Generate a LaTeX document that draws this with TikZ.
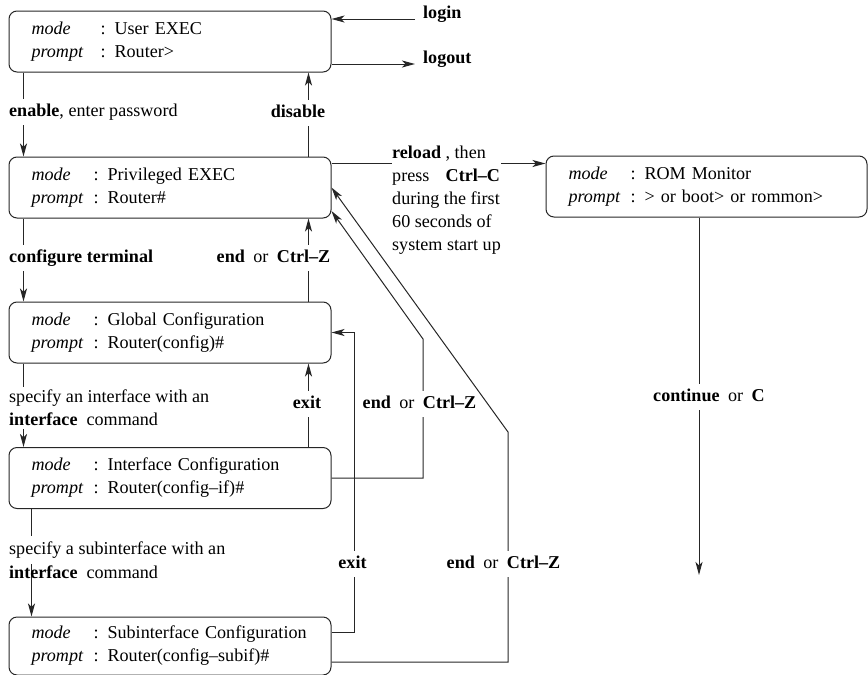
\documentclass[tikz,border=0pt]{standalone}
\usepackage{fontspec}
\setmainfont{Liberation Serif}
\usetikzlibrary{arrows.meta,calc}

% two-line mode/prompt description inside a state box
\newcommand\modeline[3]{\mbox{\makebox[#1][l]{\textit{mode}}: #2}\\\mbox{\makebox[#1][l]{\textit{prompt}}: #3}}
% spacing around "or" between two keys
\newcommand\eor{\hspace{0.47em}or\hspace{0.47em}}

\begin{document}
\begin{tikzpicture}[x=1pt,y=-1pt,
  every node/.style={font=\fontsize{18.1pt}{23pt}\selectfont},
  conn/.style={draw=black!85, line width=1pt},
  arr/.style={conn, -{Stealth[length=13pt,width=7pt,inset=3.5pt]}},
  modebox/.style={conn, rounded corners=8pt, inner xsep=22.5pt, inner ysep=0pt,
    align=left, minimum height=61pt, text width=#1},
  lbl/.style={fill=white, inner xsep=1pt, inner ysep=5pt, text height=12.5pt, text depth=4pt},
  mlbl/.style={fill=white, inner xsep=1pt, inner ysep=3pt, align=left},
]
\useasboundingbox (0,0) rectangle (868,675);

% ---- state boxes ----
\node[modebox=277pt] (b1) at (170,41.5) {\modeline{69pt}{User EXEC}{Router>}};
\node[modebox=277pt] (b2) at (170,187.5) {\modeline{62pt}{Privileged EXEC}{Router\#}};
\node[modebox=277pt] (b3) at (170,332.5) {\modeline{62pt}{Global Configuration}{Router(config)\#}};
\node[modebox=277pt] (b4) at (170,478) {\modeline{62pt}{Interface Configuration}{Router(config–if)\#}};
\node[modebox=277pt, minimum height=58pt] (b5) at (170,646) {\modeline{62pt}{Subinterface Configuration}{Router(config–subif)\#}};
\node[modebox=276pt] (rom) at (706.5,186.5) {\modeline{62pt}{ROM Monitor}{> or boot> or rommon>}};

% ---- free ends and bends ----
\coordinate (loginS) at (415,19);
\coordinate (logoutE) at (415,64);
\coordinate (rlS) at ([yshift=-7pt]b2.north east);
\coordinate (innerC) at (423,339);
\coordinate (outerC) at (508,432);
\coordinate (outS) at ([yshift=-16pt]b5.east);
\coordinate (exS) at ([yshift=14pt]b5.east);
\coordinate (excol) at (354,0);
\coordinate (b2low) at ([yshift=-23.5pt]b2.east);
\coordinate (contS) at ([xshift=-7.5pt]rom.south);
\coordinate (contE) at (699,575);

% ---- connectors ----
\draw[arr] (loginS) -- (loginS -| b1.east);
\draw[arr] (logoutE -| b1.east) -- (logoutE);
\draw[arr] ([xshift=15pt]b1.south west) -- ([xshift=15pt]b2.north west);
\draw[arr] ([xshift=-23pt]b2.north east) -- ([xshift=-23pt]b1.south east);
\draw[arr] ([xshift=15pt]b2.south west) -- ([xshift=15pt]b3.north west);
\draw[arr] ([xshift=-23pt]b3.north east) -- ([xshift=-23pt]b2.south east);
\draw[arr] ([xshift=15pt]b3.south west) -- ([xshift=15pt]b4.north west);
\draw[arr] ([xshift=-23pt]b4.north east) -- ([xshift=-23pt]b3.south east);
\draw[arr] ([xshift=23pt]b4.south west) -- ([xshift=23pt]b5.north west);
\draw[arr] (rlS) -- (rlS -| rom.west);
\draw[arr] (b4.east) -| (innerC) -- (b2low);
\draw[arr] (outS) -| (outerC) -- (b2.east);
\draw[arr] (exS) -- (exS -| excol) |- (b3.east);
\draw[arr] (contS) -- (contE);

% ---- labels ----
\node[anchor=west, inner sep=0pt] (tlogin) at (423,14) {\textbf{login}};
\node[anchor=west, inner sep=0pt] (tlogout) at (423,59) {\textbf{logout}};
\node[lbl, anchor=west] (tenable) at (8,112) {\textbf{enable}, enter password};
\node[lbl] (tdisable) at (298,113) {\textbf{disable}};
\node[lbl, anchor=west] (tconf) at (8,258) {\textbf{configure terminal}};
\node[lbl] (tend1) at (273.5,258) {\textbf{end}\eor\textbf{Ctrl–Z}};
\node[mlbl, anchor=west] (tif) at (8,408) {specify an interface with an\\\textbf{interface}\hspace{0.5em}command};
\node[lbl] (texit1) at (307,404) {\textbf{exit}};
\node[lbl] (tend2) at (419.5,404) {\textbf{end}\eor\textbf{Ctrl–Z}};
\node[lbl, anchor=west, inner ysep=6pt] (tsub1) at (8,550) {specify a subinterface with an};
\node[anchor=west, inner xsep=1pt, inner ysep=0pt] (tsub2) at (8,572) {\textbf{interface}\hspace{0.5em}command};
\node[lbl] (texit2) at (352.5,564) {\textbf{exit}};
\node[lbl] (tend3) at (503.5,564) {\textbf{end}\eor\textbf{Ctrl–Z}};
\node[mlbl, anchor=west, inner sep=0pt] (treload) at (392,200)
  {\textbf{reload} , then\\press\hspace{0.9em}\textbf{Ctrl–C}\\during the first\\60 seconds of\\system start up};
\node[lbl] (tcont) at (709,397) {\textbf{continue}\eor\textbf{C}};
\end{tikzpicture}
\end{document}
